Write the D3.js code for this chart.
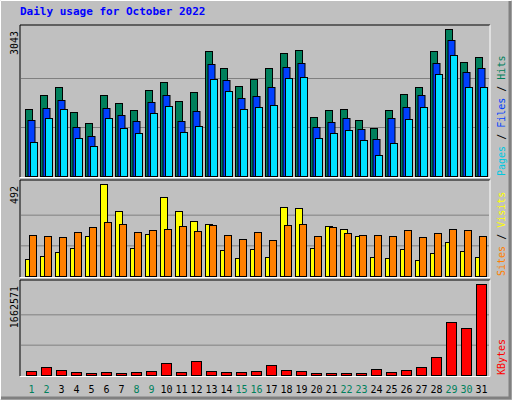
<!DOCTYPE html>
<html><head><meta charset="utf-8">
<script src="https://cdn.jsdelivr.net/npm/d3@7"></script>
<style>body{margin:0;background:#fff}svg{display:block}</style>
</head><body><svg></svg>
<script>
const days = d3.range(1, 32)
const weekends = [1,2,8,9,15,16,22,23,29,30]
const hits = [1391,1680,1845,1329,1102,1680,1515,1370,1783,1948,1556,1742,2589,2238,1866,2010,2238,2547,2609,1225,1370,1391,1164,998,1370,1701,1845,2589,3043,2362,2465]
const files = [1164,1411,1563,1005,819,1411,1267,1143,1535,1680,1143,1349,2320,1990,1618,1659,1845,2258,2341,1019,1122,1205,978,771,1205,1432,1680,2341,2816,2155,2238]
const pages = [709,1191,1377,778,613,1191,985,895,1308,1453,916,1040,2010,1769,1377,1432,1473,2031,2052,792,895,957,750,441,689,1184,1432,2114,2506,1845,1845]
const visits = [89,107,127,148,213,492,347,148,224,422,347,293,277,138,95,143,100,369,363,148,267,250,213,100,95,143,84,122,181,132,100]
const sites = [218,213,208,234,261,288,277,234,245,250,267,240,272,218,197,234,191,272,277,213,261,229,218,218,213,245,208,229,250,245,213]
const kbytes = [72816,145632,91020,54612,36408,54612,36408,54612,72816,218448,54612,254856,72816,54612,54612,72816,182040,91020,72816,36408,36408,36408,36408,109224,54612,91020,145632,327672,964812,855588,1662571]

const W = 512, H = 400, L = 20, R = 490
const svg = d3.select('svg').attr('width', W).attr('height', H)
const mono = 'DejaVu Sans Mono'

// background with bevel
svg.append('rect').attr('width', W).attr('height', H).attr('fill', '#c0c0c0')
svg.append('path').attr('d', `M0.5,${H-0.5}V0.5H${W-0.5}`).attr('stroke', '#fff').attr('fill', 'none')
svg.append('path').attr('d', `M1,${H-2}H${W-2}V1`).attr('stroke', '#808080').attr('stroke-width', 3).attr('fill', 'none')
svg.append('text').attr('x', 20).attr('y', 15).text('Daily usage for October 2022')
  .attr('font-family', mono).attr('font-weight', 'bold').attr('font-size', 11).attr('fill', '#0000ff')

const x = d3.scaleBand().domain(days).range([23, 488])

const panel = (top, bottom, max, series, labels) => {
  const y = d3.scaleLinear().domain([0, max]).range([bottom, top])
  const g = svg.append('g')
  const h = bottom - top
  g.append('path').attr('d', `M${L},${bottom+1}V${top - 4}H${R}`).attr('stroke', '#000').attr('fill', 'none')
  g.append('path').attr('d', `M${L},${bottom+1.5}H${R}V${top - 4}`).attr('stroke', '#fff').attr('fill', 'none')
  ;[1, 2].forEach(i => g.append('line').attr('x1', L + 1).attr('x2', R - 1)
    .attr('y1', bottom - h * i / 3 + 0.5).attr('y2', bottom - h * i / 3 + 0.5).attr('stroke', '#808080'))
  series.forEach(s => {
    g.selectAll(null).data(s.values).enter().append('rect')
      .attr('x', (d, i) => x(days[i]) + s.off + 0.5).attr('width', s.w)
      .attr('y', d => Math.round(y(d)) + 0.5).attr('height', d => bottom - Math.round(y(d)))
      .attr('fill', s.color).attr('stroke', '#000')
  })
  g.append('text').attr('transform', `translate(18,${top + 2}) rotate(-90)`).attr('text-anchor', 'end')
    .attr('font-family', mono).attr('font-size', 10).text(d3.format('d')(max))
  const t = g.append('text').attr('transform', `translate(505,${bottom}) rotate(-90)`)
    .attr('font-family', mono).attr('font-size', 10)
  labels.forEach((l, i) => {
    if (i) t.append('tspan').attr('fill', '#000').text(' / ')
    t.append('tspan').attr('fill', l[1]).text(l[0])
  })
}

panel(29, 176, 3043, [
  {values: hits, off: 2, w: 7, color: '#00805c'},
  {values: files, off: 4.5, w: 7, color: '#0040ff'},
  {values: pages, off: 7, w: 7, color: '#00e0ff'}
], [['Pages', '#00c8e0'], ['Files', '#0040ff'], ['Hits', '#00805c']])

panel(184, 276, 492, [
  {values: visits, off: 2, w: 7, color: '#ffff00'},
  {values: sites, off: 6, w: 7, color: '#ff8000'}
], [['Sites', '#ff8000'], ['Visits', '#ffff00']])

panel(284, 375, 1662571, [
  {values: kbytes, off: 3, w: 10, color: '#ff0000'}
], [['KBytes', '#ff0000']])

svg.append('g').selectAll('text').data(days).enter().append('text')
  .attr('x', d => x(d) + x.bandwidth() / 2 + 1).attr('y', 393).attr('text-anchor', 'middle')
  .attr('font-family', mono).attr('font-size', 10)
  .attr('fill', d => weekends.includes(d) ? '#00805c' : '#000').text(d => d)
</script></body></html>
